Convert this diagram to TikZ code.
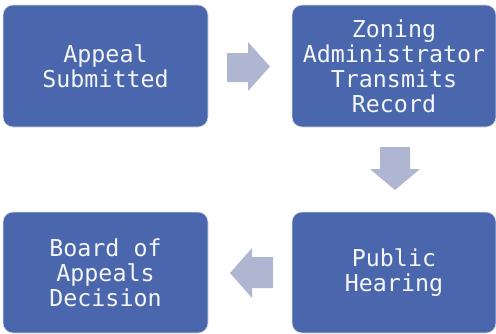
\documentclass[tikz,border=0pt]{standalone}
\usepackage{fontspec}
\setmonofont{DejaVu Sans Mono}
\definecolor{boxblue}{HTML}{4A66AC}
\definecolor{arrowgrey}{HTML}{AEB6D2}
\begin{document}
\begin{tikzpicture}[x=1pt,y=-1pt,
  stepbox/.style={draw=white!80!boxblue,line width=0.6pt,fill=boxblue,rounded corners=10pt,
    text=white!94!boxblue,align=center,
    font=\ttfamily\fontsize{23.3}{25}\selectfont},
  flowarrow/.style={fill=arrowgrey,draw=none}]
\useasboundingbox (0,0) rectangle (496,333);
\node[stepbox,minimum width=205pt,minimum height=122pt] (appeal) at (105.5,66) {Appeal\\Submitted};
\node[stepbox,minimum width=204pt,minimum height=122pt] (record) at (394,66) {Zoning\\Administrator\\Transmits\\Record};
\node[stepbox,minimum width=204pt,minimum height=121pt] (hearing) at (394,272.5) {Public\\Hearing};
\node[stepbox,minimum width=205pt,minimum height=121pt] (decision) at (105.5,272.5) {Board of\\Appeals\\Decision};
% block arrows between the steps
\fill[flowarrow] (227,53) -- (248,53) -- (248,42) -- (270,66.5) -- (248,91) -- (248,82) -- (227,82) -- cycle;
\fill[flowarrow] (380,147) -- (410,147) -- (410,169) -- (420,169) -- (395,190) -- (370,169) -- (380,169) -- cycle;
\fill[flowarrow] (273,257) -- (252,257) -- (252,248) -- (230,273) -- (252,298) -- (252,288) -- (273,288) -- cycle;
\end{tikzpicture}
\end{document}
